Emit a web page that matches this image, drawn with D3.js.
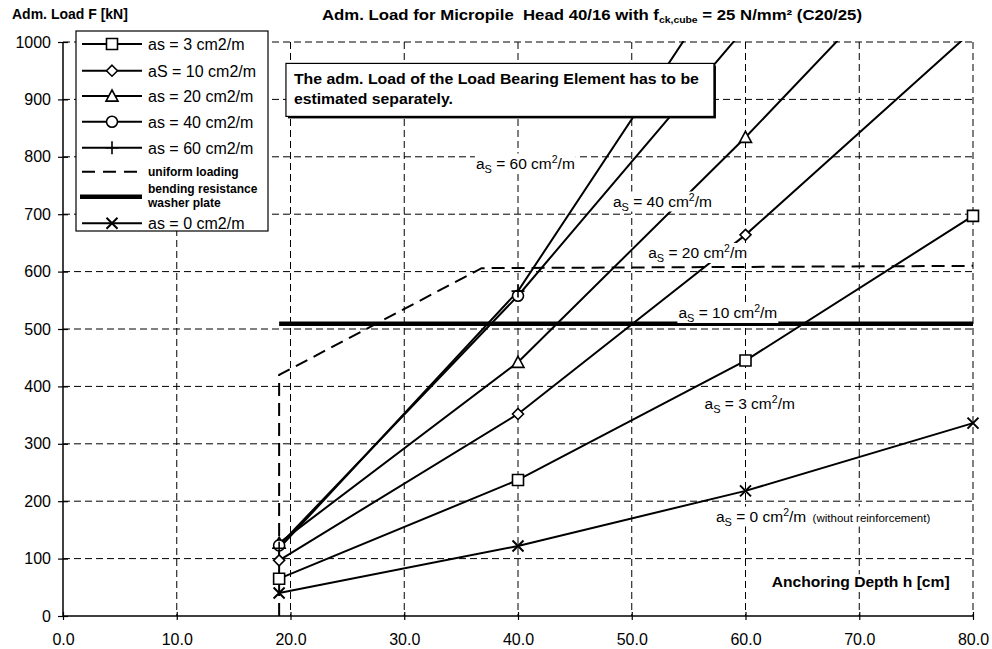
<!DOCTYPE html>
<html><head><meta charset="utf-8">
<script src="https://cdn.jsdelivr.net/npm/d3@7"></script>
<style>
body{margin:0;background:#fff}
text{font-family:"Liberation Sans",Arial,Helvetica,sans-serif;fill:#000;white-space:pre}
</style>
</head><body>
<svg id="chart" width="992" height="649"></svg>
<script>
// ---------- data ----------
const xTicks = [0, 10, 20, 30, 40, 50, 60, 70, 80];
const yTicks = [0, 100, 200, 300, 400, 500, 600, 700, 800, 900, 1000];

const depth0  = [19, 40, 60, 80];
const load0   = [40, 122, 218, 336];
const depth3  = [19, 40, 60, 80];
const load3   = [65, 237, 445, 697];
const depth10 = [19, 40, 60, 80];
const load10  = [97, 352, 664, 1020];
const depth20 = [19, 40, 60, 80];
const load20  = [127, 442, 834, 1250];
const depth40 = [19, 40, 60];
const load40  = [123, 558, 1025];
const depth60 = [19, 40, 60];
const load60  = [118, 566, 1165];

const uniformDepth = [19, 19, 36.8, 80];
const uniformLoad  = [0, 420, 606, 610];
const bendingDepth = [19, 80];
const bendingLoad  = [509, 509];

const legendLabels = ["as = 3 cm2/m", "aS = 10 cm2/m", "as = 20 cm2/m", "as = 40 cm2/m",
  "as = 60 cm2/m", "uniform loading", "bending resistance|washer plate", "as = 0 cm2/m"];

(function () {
// ---------- setup ----------
const svg = d3.select("#chart");
const W = 992, H = 649;
const pL = 63, pR = 973, pT = 42, pB = 616;
const x = d3.scaleLinear().domain([0, 80]).range([pL, pR]);
const y = d3.scaleLinear().domain([0, 1000]).range([pB, pT]);

svg.append("rect").attr("width", W).attr("height", H).attr("fill", "#fff");
svg.append("defs").append("clipPath").attr("id", "plotClip")
  .append("rect").attr("x", pL).attr("y", pT - 1).attr("width", pR - pL + 2).attr("height", pB - pT + 1);

// ---------- grid ----------
const grid = svg.append("g");
grid.selectAll("line.h").data(yTicks.filter(d => d > 0)).join("line").attr("class", "h")
  .attr("x1", pL).attr("x2", pR).attr("y1", d => y(d)).attr("y2", d => y(d))
  .attr("stroke", "#000").attr("stroke-width", 1).attr("stroke-dasharray", "7,4");
grid.selectAll("line.v").data(xTicks.filter(d => d > 0)).join("line").attr("class", "v")
  .attr("y1", pT).attr("y2", pB).attr("x1", d => x(d)).attr("x2", d => x(d))
  .attr("stroke", "#000").attr("stroke-width", 1).attr("stroke-dasharray", "7,4");

// ---------- axes ----------
const yAxis = svg.append("g").attr("transform", `translate(${pL},0)`)
  .call(d3.axisLeft(y).tickValues(yTicks).tickFormat(d3.format("d")).tickSizeOuter(0).tickSizeInner(5));
yAxis.select(".domain").attr("stroke-width", 1.5).attr("d", `M0,${pB}V${pT}`);
yAxis.selectAll(".tick line").attr("x1", -5).attr("x2", 5).attr("stroke-width", 1.2);
yAxis.selectAll(".tick text").attr("x", -12).attr("font-size", 16)
  .style("font-family", '"Liberation Sans",Arial,sans-serif');

const xAxis = svg.append("g").attr("transform", `translate(0,${pB})`)
  .call(d3.axisBottom(x).tickValues(xTicks).tickFormat(d3.format(".1f")).tickSizeOuter(0).tickSizeInner(4));
xAxis.select(".domain").attr("stroke-width", 1.5).attr("d", `M${pL},0H${pR}`);
xAxis.selectAll(".tick line").attr("y1", -4).attr("y2", 4).attr("stroke-width", 1.2);
xAxis.selectAll(".tick text").attr("y", 29).attr("dy", 0).attr("font-size", 16)
  .style("font-family", '"Liberation Sans",Arial,sans-serif');

// ---------- markers ----------
function markerPath(type, s) {
  const h = s / 2;
  switch (type) {
    case "square": return `M${-h},${-h}H${h}V${h}H${-h}Z`;
    case "diamond": return `M0,${-h}L${h},0L0,${h}L${-h},0Z`;
    case "triangle": return `M0,${-h}L${h},${h * 0.85}L${-h},${h * 0.85}Z`;
    case "circle": return `M${h},0A${h},${h} 0 1,1 ${-h},0A${h},${h} 0 1,1 ${h},0Z`;
    case "plus": return `M0,${-h}V${h}M${-h},0H${h}`;
    case "cross": return `M${-h},${-h}L${h},${h}M${h},${-h}L${-h},${h}`;
  }
}
function drawMarker(g, type, px, py) {
  const filled = ["square", "diamond", "triangle", "circle"].includes(type);
  const size = {square: 11, diamond: 11, triangle: 12, circle: 11, plus: 13, cross: 11}[type];
  g.append("path").attr("transform", `translate(${px},${py})`).attr("d", markerPath(type, size))
    .attr("fill", filled ? "#fff" : "none").attr("stroke", "#000")
    .attr("stroke-width", type === "cross" ? 2 : 1.6);
}

// ---------- series ----------
const series = [
  {d: depth0, v: load0, m: "cross"},
  {d: depth3, v: load3, m: "square"},
  {d: depth10, v: load10, m: "diamond"},
  {d: depth20, v: load20, m: "triangle"},
  {d: depth40, v: load40, m: "circle"},
  {d: depth60, v: load60, m: "plus"}
];
const line = d3.line().x(p => x(p[0])).y(p => y(p[1]));
const lines = svg.append("g").attr("clip-path", "url(#plotClip)");

lines.append("path").attr("d", line(d3.zip(uniformDepth, uniformLoad)))
  .attr("fill", "none").attr("stroke", "#000").attr("stroke-width", 2).attr("stroke-dasharray", "13,7");
lines.append("path").attr("d", line(d3.zip(bendingDepth, bendingLoad)))
  .attr("fill", "none").attr("stroke", "#000").attr("stroke-width", 4.5);

series.forEach(s => {
  lines.append("path").attr("d", line(d3.zip(s.d, s.v)))
    .attr("fill", "none").attr("stroke", "#000").attr("stroke-width", 2);
});

// ---------- series labels ----------
const ann = svg.append("g");
function withBg(t, pad) {
  const b = t.node().getBBox();
  ann.insert("rect", () => t.node())
    .attr("x", b.x - pad).attr("y", b.y + 1).attr("width", b.width + 2 * pad).attr("height", b.height - 2)
    .attr("fill", "#fff");
}
function seriesLabel(dx, dv, value, note) {
  const t = ann.append("text").attr("x", x(dx)).attr("y", y(dv)).attr("font-size", 15.5);
  t.append("tspan").text("a");
  t.append("tspan").attr("font-size", 11).attr("dy", 4).text("S");
  t.append("tspan").attr("dy", -4).text(" = " + value + " cm");
  t.append("tspan").attr("font-size", 10.5).attr("dy", -6).text("2");
  t.append("tspan").attr("dy", 6).text("/m");
  if (note) t.append("tspan").attr("font-size", 11.5).text("  " + note);
  withBg(t, 1);
}
seriesLabel(36.3, 779.6, "60");
seriesLabel(48.35, 713.4, "40");
seriesLabel(51.45, 623.7, "20");
seriesLabel(54.1, 519.2, "10");
seriesLabel(56.4, 360.6, "3");
seriesLabel(57.4, 164.6, "0", "(without reinforcement)");

const axT = ann.append("text").attr("x", x(62.3)).attr("y", y(50)).attr("font-size", 15)
  .attr("font-weight", "bold").attr("textLength", 178).attr("lengthAdjust", "spacingAndGlyphs")
  .text("Anchoring Depth h [cm]");
withBg(axT, 2);

// ---------- markers on top ----------
const mk = svg.append("g");
series.forEach(s => {
  s.d.forEach((dd, i) => {
    if (s.v[i] <= 1000) drawMarker(mk, s.m, x(dd), y(s.v[i]));
  });
});

// ---------- note box ----------
const nb = svg.append("g");
const bx0 = x(19.6), by0 = y(962.7), bw = 428, bh = 53;
nb.append("rect").attr("x", bx0 + 2).attr("y", by0 + 2).attr("width", bw).attr("height", bh).attr("fill", "#000");
nb.append("rect").attr("x", bx0).attr("y", by0).attr("width", bw).attr("height", bh)
  .attr("fill", "#fff").attr("stroke", "#000").attr("stroke-width", 1.2);
nb.append("text").attr("x", bx0 + 8).attr("y", by0 + 21).attr("font-size", 15.5).attr("font-weight", "bold")
  .attr("textLength", 405).attr("lengthAdjust", "spacingAndGlyphs")
  .text("The adm. Load of the Load Bearing Element has to be");
nb.append("text").attr("x", bx0 + 8).attr("y", by0 + 41).attr("font-size", 15.5).attr("font-weight", "bold")
  .attr("textLength", 159).attr("lengthAdjust", "spacingAndGlyphs")
  .text("estimated separately.");

// ---------- legend ----------
const lg = svg.append("g").attr("transform", "translate(76,31)");
lg.append("rect").attr("width", 192).attr("height", 200).attr("fill", "#fff")
  .attr("stroke", "#000").attr("stroke-width", 1.2);
const rowY = [13, 39.7, 65, 90.7, 116.7, 140.7, 165.7, 192.3];
const legendMarkers = ["square", "diamond", "triangle", "circle", "plus", null, null, "cross"];
legendLabels.forEach((lab, i) => {
  const ry = rowY[i];
  if (i === 5) {
    lg.append("line").attr("x1", 6).attr("x2", 62).attr("y1", ry).attr("y2", ry)
      .attr("stroke", "#000").attr("stroke-width", 2).attr("stroke-dasharray", "13,8");
  } else if (i === 6) {
    lg.append("line").attr("x1", 4).attr("x2", 66).attr("y1", ry).attr("y2", ry)
      .attr("stroke", "#000").attr("stroke-width", 4.5);
  } else {
    lg.append("line").attr("x1", 6).attr("x2", 66).attr("y1", ry).attr("y2", ry)
      .attr("stroke", "#000").attr("stroke-width", 2);
    drawMarker(lg, legendMarkers[i], 36, ry);
  }
  if (i === 5) {
    lg.append("text").attr("x", 72).attr("y", ry + 4).attr("font-size", 12).attr("font-weight", "bold").text(lab);
  } else if (i === 6) {
    const parts = lab.split("|");
    lg.append("text").attr("x", 72).attr("y", ry - 4).attr("font-size", 12).attr("font-weight", "bold").text(parts[0]);
    lg.append("text").attr("x", 72).attr("y", ry + 10).attr("font-size", 12).attr("font-weight", "bold").text(parts[1]);
  } else {
    lg.append("text").attr("x", 72).attr("y", ry + 6).attr("font-size", 16).text(lab);
  }
});

// ---------- titles ----------
svg.append("text").attr("x", 12).attr("y", 18.5).attr("font-size", 14).attr("font-weight", "bold")
  .text("Adm. Load F [kN]");
const tt = svg.append("text").attr("x", 322).attr("y", 19.5).attr("font-size", 14.5).attr("font-weight", "bold");
tt.append("tspan").text("Adm. Load for Micropile  Head 40/16 with f");
tt.append("tspan").attr("font-size", 9).attr("dy", 3).text("ck,cube");
tt.append("tspan").attr("dy", -3).text(" = 25 N/mm² (C20/25)");
tt.attr("textLength", 540).attr("lengthAdjust", "spacingAndGlyphs");
})();
</script>
</body></html>
